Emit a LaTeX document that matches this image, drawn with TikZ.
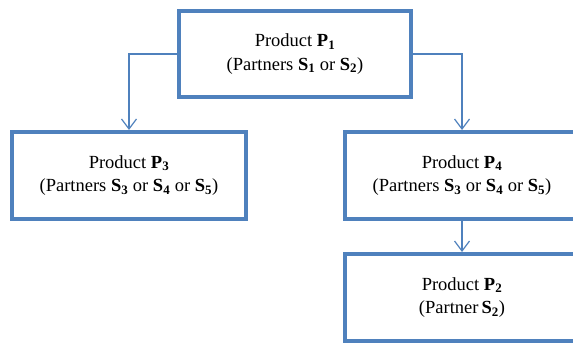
\documentclass[tikz,border=0pt]{standalone}
\usepackage{fontspec}
\setmainfont{Liberation Serif}
\usetikzlibrary{arrows.meta,positioning}

\definecolor{boxblue}{HTML}{4F81BD}

\begin{document}
\begin{tikzpicture}[x=1pt, y=-1pt,
    prodbox/.style={draw=boxblue, line width=4pt, rectangle, align=center,
                    minimum width=232pt, minimum height=86pt, inner sep=0pt,
                    font=\fontsize{18.5}{23.5}\selectfont},
    link/.style={draw=boxblue, line width=1.2pt,
                 -{Straight Barb[length=10pt, width=15pt, line width=1.2pt]}}]

% Page frame
\useasboundingbox (0,0) rectangle (573,344);
\clip (0,0) rectangle (573,344);

% Product boxes
\node[prodbox] (p1) at (295,54)
  {Product \textbf{P\textsubscript{1}}\\(Partners \textbf{S\textsubscript{1}} or \textbf{S\textsubscript{2}})};
\node[prodbox, minimum width=234pt, minimum height=87pt] (p3) at (129,175.5)
  {Product \textbf{P\textsubscript{3}}\\(Partners \textbf{S\textsubscript{3}} or \textbf{S\textsubscript{4}} or \textbf{S\textsubscript{5}})};
\node[prodbox, minimum width=234pt, minimum height=87pt] (p4) at (462,175.5)
  {Product \textbf{P\textsubscript{4}}\\(Partners \textbf{S\textsubscript{3}} or \textbf{S\textsubscript{4}} or \textbf{S\textsubscript{5}})};
\node[prodbox, minimum width=234pt, minimum height=87pt] (p2) at (462,297.5)
  {Product \textbf{P\textsubscript{2}}\\(Partner\,\textbf{S\textsubscript{2}})};

% Links
\draw[link] (p1.west) -| (p3.north);
\draw[link] (p1.east) -| (p4.north);
\draw[link] (p4.south) -- (p2.north);

\end{tikzpicture}
\end{document}
